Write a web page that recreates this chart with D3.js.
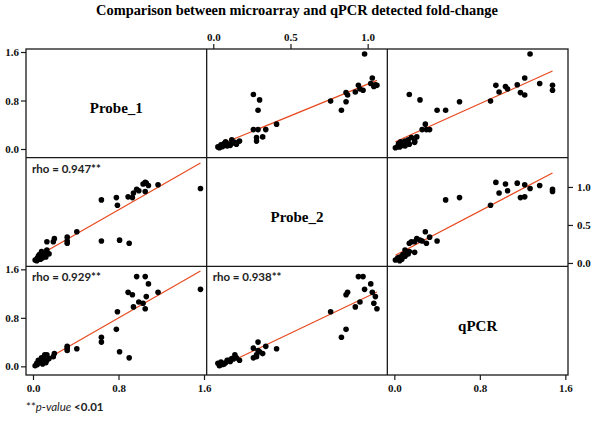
<!DOCTYPE html>
<html><head><meta charset="utf-8">
<script src="https://cdn.jsdelivr.net/npm/d3@7"></script>
<style>body{margin:0;background:#fff}</style>
</head><body><svg id="c" width="600" height="423"></svg>
<script>
// ---- data ----
const variables = ["Probe_1", "Probe_2", "qPCR"];
const probe1 = [1.567,0.97,1.05,1.08,0.89,0.93,1.17,1.06,0.99,1.03,0.94,1.05,0.79,0.78,0.64,
                0.64,0.81,0.90,
                0.41,0.32,0.32,0.32,0.20,0.19,0.13,
                0.02,0.04,0.035,0.05,0.07,0.08,0.08,0.10,0.12,0.13,0.06,0.11,0.15,0.09];
const probe2 = [0.98,0.97,0.94,1.02,0.87,0.86,1.03,1.05,0.95,1.04,0.92,1.06,0.76,0.86,0.83,
                0.29,0.30,0.26,
                0.41,0.34,0.29,0.26,0.32,0.28,0.28,
                0.04,0.06,0.03,0.09,0.05,0.15,0.10,0.13,0.08,0.17,0.11,0.14,0.12,0.07];
const qpcr   = [1.27,1.48,1.48,1.36,1.22,1.18,1.22,1.15,1.06,1.04,0.98,0.95,0.90,0.61,0.48,
                0.40,0.24,0.14,
                0.29,0.33,0.26,0.30,0.21,0.16,0.19,
                0.01,0.03,0.05,0.10,0.07,0.14,0.10,0.12,0.06,0.10,0.08,0.19,0.13,0.04];
const rhoPanels = [[1,0],[2,0],[2,1]];          // [row, col]
const rhoLabels = ["rho = 0.947**","rho = 0.929**","rho = 0.938**"];
const wideTicks = [0, 0.8, 1.6];
const narrowTicks = [0, 0.5, 1.0];
const titleText = "Comparison between microarray and qPCR detected fold-change";

// ---- layout ----
const L = 26, R = 568, T = 49, B = 375;
const cw = (R - L) / 3, ch = (B - T) / 3;
const series = [probe1, probe2, qpcr];
const data = probe1.map((_, i) => series.map(s => s[i]));
const lineColor = "#e84a1f";
const svg = d3.select("#c");

function xScale(col) {
  const x0 = L + col * cw;
  return col === 1
    ? d3.scaleLinear().domain([0, 1]).range([x0 + 6.6, x0 + 161])
    : d3.scaleLinear().domain([0, 1.6]).range([x0 + 7, x0 + 178]);
}
function yScale(row) {
  const y0 = T + row * ch;
  return row === 1
    ? d3.scaleLinear().domain([0, 1]).range([y0 + 105.3, y0 + 29.3])
    : d3.scaleLinear().domain([0, 1.6]).range([y0 + 100, y0 + 3]);
}

// title
svg.append("text").attr("x", 297).attr("y", 15).attr("text-anchor", "middle")
  .attr("font-family", "Liberation Serif, Times New Roman, serif").attr("font-weight", "bold")
  .attr("font-size", 14.4).text(titleText);

// panels
for (let r = 0; r < 3; r++) {
  for (let c = 0; c < 3; c++) {
    const x0 = L + c * cw, y0 = T + r * ch;
    const g = svg.append("g");
    if (r === c) {
      g.append("text").attr("x", x0 + cw / 2).attr("y", y0 + ch / 2 + 10)
        .attr("text-anchor", "middle")
        .attr("font-family", "Liberation Serif, Times New Roman, serif").attr("font-weight", "bold")
        .attr("font-size", 15).text(variables[r]);
      continue;
    }
    const xs = xScale(c), ys = yScale(r);
    const pts = data.map(d => [d[c], d[r]]);
    const mx = d3.mean(pts, p => p[0]), my = d3.mean(pts, p => p[1]);
    const sxy = d3.sum(pts, p => (p[0] - mx) * (p[1] - my));
    const sxx = d3.sum(pts, p => (p[0] - mx) ** 2);
    const slope = sxy / sxx, icpt = my - slope * mx;
    const ext = d3.extent(pts, p => p[0]);
    g.append("line")
      .attr("x1", xs(ext[0])).attr("y1", ys(icpt + slope * ext[0]))
      .attr("x2", xs(ext[1])).attr("y2", ys(icpt + slope * ext[1]))
      .attr("stroke", lineColor).attr("stroke-width", 1.2);
    g.selectAll("circle").data(pts).join("circle")
      .attr("cx", p => xs(p[0])).attr("cy", p => ys(p[1])).attr("r", 2.8).attr("fill", "#000");
  }
}

// rho labels
rhoPanels.forEach(([r, c], i) => {
  svg.append("text").attr("x", L + c * cw + 6).attr("y", T + r * ch + 15)
    .attr("font-family", "Lato, Open Sans, sans-serif").attr("font-weight", "bold")
    .attr("font-size", 11.5).attr("fill", "#222").text(rhoLabels[i]);
});

// frame
const fr = svg.append("g").attr("stroke", "#1a1a1a").attr("stroke-width", 1.3).attr("fill", "none");
fr.append("rect").attr("x", L).attr("y", T).attr("width", R - L).attr("height", B - T);
for (let k = 1; k < 3; k++) {
  fr.append("line").attr("x1", L + k * cw).attr("x2", L + k * cw).attr("y1", T).attr("y2", B);
  fr.append("line").attr("y1", T + k * ch).attr("y2", T + k * ch).attr("x1", L).attr("x2", R);
}

// axes
function styleAxis(sel) {
  sel.select(".domain").remove();
  sel.selectAll("line").attr("stroke", "#1a1a1a").attr("stroke-width", 1.2);
  sel.selectAll("text").attr("font-family", "Liberation Serif, Times New Roman, serif")
    .attr("font-weight", "bold").attr("font-size", 11).attr("fill", "#111");
}
const fmt = d3.format(".1f");
[0, 2].forEach(r => {
  svg.append("g").attr("transform", `translate(${L},0)`)
    .call(d3.axisLeft(yScale(r)).tickValues(wideTicks).tickFormat(fmt).tickSize(5).tickPadding(2))
    .call(styleAxis);
});
[0, 2].forEach(c => {
  svg.append("g").attr("transform", `translate(0,${B})`)
    .call(d3.axisBottom(xScale(c)).tickValues(wideTicks).tickFormat(fmt).tickSize(5).tickPadding(4))
    .call(styleAxis);
});
svg.append("g").attr("transform", `translate(0,${T})`)
  .call(d3.axisTop(xScale(1)).tickValues(narrowTicks).tickFormat(fmt).tickSize(5).tickPadding(3))
  .call(styleAxis);
svg.append("g").attr("transform", `translate(${R},0)`)
  .call(d3.axisRight(yScale(1)).tickValues(narrowTicks).tickFormat(fmt).tickSize(5).tickPadding(4))
  .call(styleAxis);

// footnote
const fn = svg.append("text").attr("x", 26).attr("y", 411)
  .attr("font-family", "Lato, Open Sans, sans-serif").attr("font-size", 11.5).attr("fill", "#222");
fn.append("tspan").text("**");
fn.append("tspan").attr("font-style", "italic").text("p-value");
fn.append("tspan").attr("font-weight", "bold").text(" <0.01");
</script></body></html>
